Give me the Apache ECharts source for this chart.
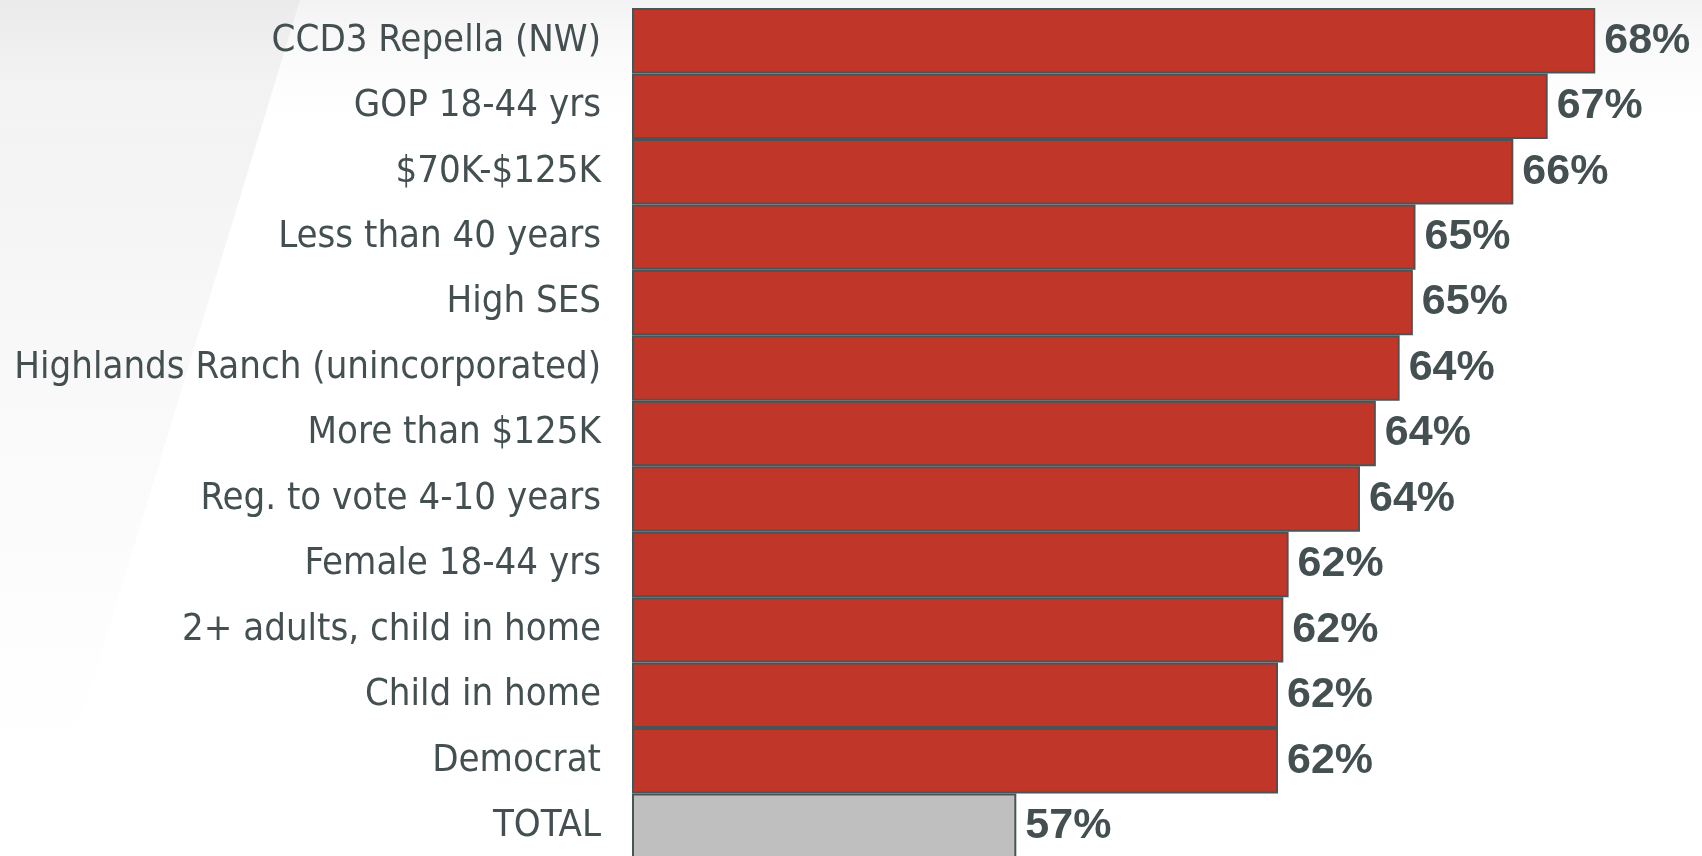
<!DOCTYPE html>
<html>
<head>
<meta charset="utf-8">
<style>
  html, body { margin: 0; padding: 0; background: #ffffff; }
  #chart { width: 1702px; height: 856px; }
</style>
<script src="https://cdn.jsdelivr.net/npm/echarts@6/dist/echarts.min.js"></script>
</head>
<body>
<div id="chart"></div>
<script>
// Segments, top to bottom
const categories = [
  'CCD3 Repella (NW)',
  'GOP 18-44 yrs',
  '$70K-$125K',
  'Less than 40 years',
  'High SES',
  'Highlands Ranch (unincorporated)',
  'More than $125K',
  'Reg. to vote 4-10 years',
  'Female 18-44 yrs',
  '2+ adults, child in home',
  'Child in home',
  'Democrat',
  'TOTAL'
];

// Share of each segment, in percent (labels show the rounded value)
const values = [68.0, 67.1, 66.45, 64.6, 64.55, 64.3, 63.85, 63.55, 62.2, 62.1, 62.0, 62.0, 57.05];

// Which rows are the overall baseline
const baselineRows = ['TOTAL'];

const TEXT = '#434f50';
const RED = '#c0372a';
const GREY = '#bfbfbf';
const EDGE = '#4a5456';

const chart = echarts.init(document.getElementById('chart'), null, { renderer: 'canvas' });

chart.setOption({
  backgroundColor: '#ffffff',
  animation: false,
  graphic: [
    {
      type: 'polygon',
      z: -10,
      silent: true,
      shape: { points: [[0, 0], [300, 0], [40, 856], [0, 856]] },
      style: {
        fill: {
          type: 'linear', x: 0, y: 0, x2: 0, y2: 1,
          colorStops: [
            { offset: 0, color: 'rgba(228,228,228,0.6)' },
            { offset: 0.6, color: 'rgba(242,242,242,0.3)' },
            { offset: 1, color: 'rgba(255,255,255,0)' }
          ]
        }
      }
    },
    {
      type: 'rect',
      z: -10,
      silent: true,
      shape: { x: 0, y: 0, width: 1702, height: 140 },
      style: {
        fill: {
          type: 'linear', x: 0, y: 0, x2: 0, y2: 1,
          colorStops: [
            { offset: 0, color: 'rgba(230,230,230,0.5)' },
            { offset: 1, color: 'rgba(255,255,255,0)' }
          ]
        }
      }
    }
  ],
  grid: { left: 633, right: 1, top: 8, bottom: -3, containLabel: false, outerBoundsMode: 'none' },
  xAxis: {
    type: 'value',
    min: 49.8,
    max: 70,
    show: false
  },
  yAxis: {
    type: 'category',
    data: categories,
    inverse: true,
    axisLine: { show: false },
    axisTick: { show: false },
    splitLine: { show: false },
    axisLabel: {
      margin: 32,
      color: TEXT,
      fontSize: 38,
      fontFamily: "'Liberation Sans Narrow', 'Arial Narrow', 'DejaVu Sans Condensed', sans-serif"
    }
  },
  series: [{
    type: 'bar',
    barCategoryGap: 0,
    data: values.map((v, i) => ({
      value: v,
      itemStyle: { color: baselineRows.includes(categories[i]) ? GREY : RED }
    })),
    itemStyle: { borderColor: EDGE, borderWidth: 2 },
    label: {
      show: true,
      position: 'right',
      distance: 9,
      color: TEXT,
      fontSize: 43,
      fontWeight: 'bold',
      fontFamily: "'Liberation Sans', Arial, sans-serif",
      formatter: p => Math.round(p.value) + '%'
    }
  }]
});
</script>
</body>
</html>
